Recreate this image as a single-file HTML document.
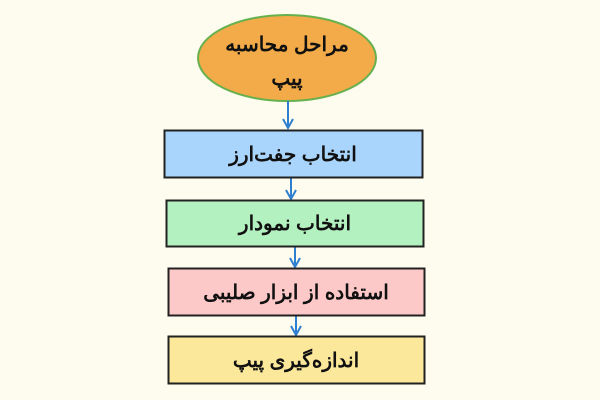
<!DOCTYPE html>
<html><head><meta charset="utf-8"><style>
html,body{margin:0;padding:0;background:#fdfcee;}
svg{display:block}
text{font-family:"Liberation Sans","Noto Sans CJK SC",sans-serif;font-size:20px;font-weight:bold;fill:#111;text-anchor:middle;direction:rtl}
</style></head><body>
<svg width="600" height="400" viewBox="0 0 600 400">
<rect width="600" height="400" fill="#fdfcee"/>
<ellipse cx="287" cy="58" rx="89" ry="43" fill="#f2ab48" stroke="#66b04e" stroke-width="2"/>
<text x="287" y="51">مراحل محاسبه</text>
<text x="287" y="85">پیپ</text>
<g stroke="#2f7fd0" stroke-width="2" fill="none">
<line x1="288" y1="101" x2="288" y2="128"/><polyline points="283,119 288,128 293,119"/>
<line x1="291" y1="178" x2="291" y2="199"/><polyline points="286,190 291,199 296,190"/>
<line x1="295" y1="247" x2="295" y2="267"/><polyline points="290,258 295,267 300,258"/>
<line x1="296" y1="316" x2="296" y2="335"/><polyline points="291,326 296,335 301,326"/>
</g>
<rect x="164.5" y="130.5" width="258" height="47" fill="#a9d4fb" stroke="#222" stroke-width="2"/>
<text x="293" y="161">انتخاب جفت‌ارز</text>
<rect x="166.5" y="200.5" width="257" height="46" fill="#b4f1c0" stroke="#222" stroke-width="2"/>
<text x="295" y="230">انتخاب نمودار</text>
<rect x="168.5" y="268.5" width="256" height="47" fill="#fdc8c8" stroke="#222" stroke-width="2"/>
<text x="296" y="299">استفاده از ابزار صلیبی</text>
<rect x="168.5" y="336.5" width="256" height="47" fill="#fbe89a" stroke="#222" stroke-width="2"/>
<text x="296" y="367">اندازه‌گیری پیپ</text>
</svg>
</body></html>
